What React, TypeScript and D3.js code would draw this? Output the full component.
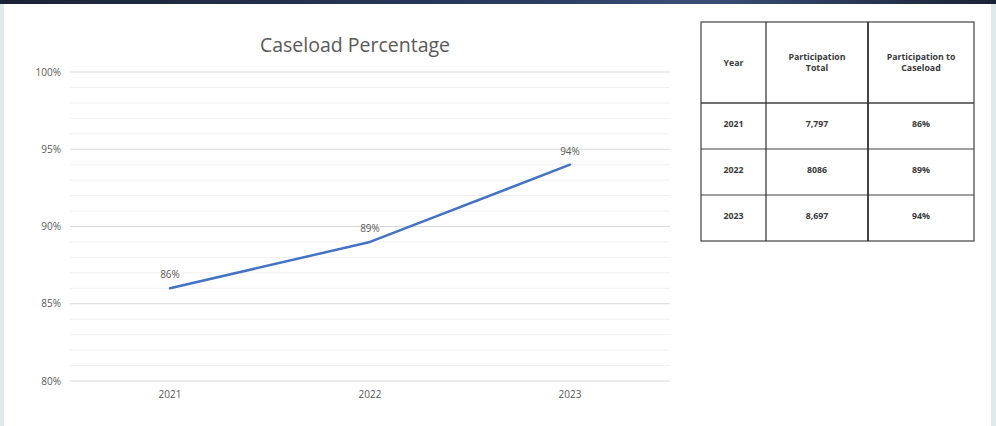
import React from "react";
import * as d3 from "d3";

const years = ["2021", "2022", "2023"];
const caseloadPct = [86, 89, 94];
const yTicks = [80, 85, 90, 95, 100];
const minorTicks = d3.range(80, 101, 1);
const participationTotal = ["7,797", "8086", "8,697"];
const participationPct = ["86%", "89%", "94%"];
const tableHeaders = [["Year"], ["Participation", "Total"], ["Participation to", "Caseload"]];

const W = 996;
const H = 426;
const FONT = "'Open Sans', 'Noto Sans', sans-serif";

export default function App() {
  const x = d3.scalePoint<string>().domain(years).range([70, 670]).padding(0.5);
  const y = d3.scaleLinear().domain([80, 100]).range([381, 72]);
  const line = d3
    .line<number>()
    .x((_, i) => x(years[i]) as number)
    .y((d) => y(d));

  // table layout
  const tx = [701, 766, 868, 974];
  const ty = [22, 103, 149, 195, 241];
  const rows = years.map((yr, i) => [yr, participationTotal[i], participationPct[i]]);

  return (
    <div style={{ position: "absolute", left: 0, top: 0 }}>
      <svg width={W} height={H} style={{ display: "block" }}>
        <defs>
          <linearGradient id="topbar" x1="0" x2="1" y1="0" y2="0">
            <stop offset="0" stopColor="#1a2235" />
            <stop offset="0.55" stopColor="#2b3d62" />
            <stop offset="0.7" stopColor="#3a4f78" />
            <stop offset="1" stopColor="#1a2235" />
          </linearGradient>
        </defs>
        <rect x={0} y={0} width={W} height={H} fill="#ffffff" />
        <rect x={0} y={0} width={4} height={H} fill="#dfe9eb" />
        <rect x={991} y={0} width={5} height={H} fill="#dfe9eb" />
        <rect x={0} y={0} width={W} height={4} fill="url(#topbar)" />

        {/* minor gridlines */}
        {minorTicks.map((t) => (
          <line
            key={"m" + t}
            x1={70}
            x2={670}
            y1={y(t)}
            y2={y(t)}
            stroke={t % 5 === 0 ? "#d9d9d9" : "#f0f0f0"}
            strokeWidth={1}
          />
        ))}
        {yTicks.map((t) => (
          <text
            key={"yl" + t}
            x={61}
            y={y(t)}
            dy="0.35em"
            textAnchor="end"
            fontFamily={FONT}
            fontSize={10}
            fill="#595959"
          >
            {t}%
          </text>
        ))}
        {years.map((yr) => (
          <text
            key={"xl" + yr}
            x={x(yr)}
            y={398}
            textAnchor="middle"
            fontFamily={FONT}
            fontSize={10}
            fill="#595959"
          >
            {yr}
          </text>
        ))}
        <text
          x={355}
          y={52}
          textAnchor="middle"
          fontFamily={FONT}
          fontSize={19.5}
          fill="#595959"
        >
          Caseload Percentage
        </text>
        <path
          d={line(caseloadPct) || ""}
          fill="none"
          stroke="#4472c4"
          strokeWidth={2.5}
          strokeLinecap="round"
          strokeLinejoin="round"
        />
        {caseloadPct.map((v, i) => (
          <text
            key={"dl" + i}
            x={x(years[i])}
            y={y(v) - 10}
            textAnchor="middle"
            fontFamily={FONT}
            fontSize={10}
            fill="#595959"
          >
            {v}%
          </text>
        ))}

        {/* table */}
        <rect x={tx[0]} y={ty[0]} width={tx[3] - tx[0]} height={ty[4] - ty[0]} fill="#fff" stroke="#404040" strokeWidth={1.2} />
        {ty.slice(1, 4).map((yy, i) => (
          <line key={"th" + i} x1={tx[0]} x2={tx[3]} y1={yy} y2={yy} stroke="#404040" strokeWidth={i === 0 ? 1.6 : 1.2} />
        ))}
        {tx.slice(1, 3).map((xx, i) => (
          <line key={"tv" + i} x1={xx} x2={xx} y1={ty[0]} y2={ty[4]} stroke="#303030" strokeWidth={i === 1 ? 1.8 : 1.2} />
        ))}
        {tableHeaders.map((lines, c) => {
          const cx = (tx[c] + tx[c + 1]) / 2;
          const cy = (ty[0] + ty[1]) / 2;
          const start = cy - ((lines.length - 1) * 11) / 2;
          return (
            <text key={"hd" + c} textAnchor="middle" fontFamily={FONT} fontSize={8.8} fontWeight="bold" fill="#3a3a3a">
              {lines.map((l, k) => (
                <tspan key={k} x={cx} y={start + k * 11} dy="0.35em">
                  {l}
                </tspan>
              ))}
            </text>
          );
        })}
        {rows.map((r, ri) =>
          r.map((cell, c) => (
            <text
              key={"c" + ri + c}
              x={(tx[c] + tx[c + 1]) / 2}
              y={(ty[ri + 1] + ty[ri + 2]) / 2 - 2}
              dy="0.35em"
              textAnchor="middle"
              fontFamily={FONT}
              fontSize={8.8}
              fontWeight="bold"
              fill="#3a3a3a"
            >
              {cell}
            </text>
          ))
        )}
      </svg>
    </div>
  );
}
